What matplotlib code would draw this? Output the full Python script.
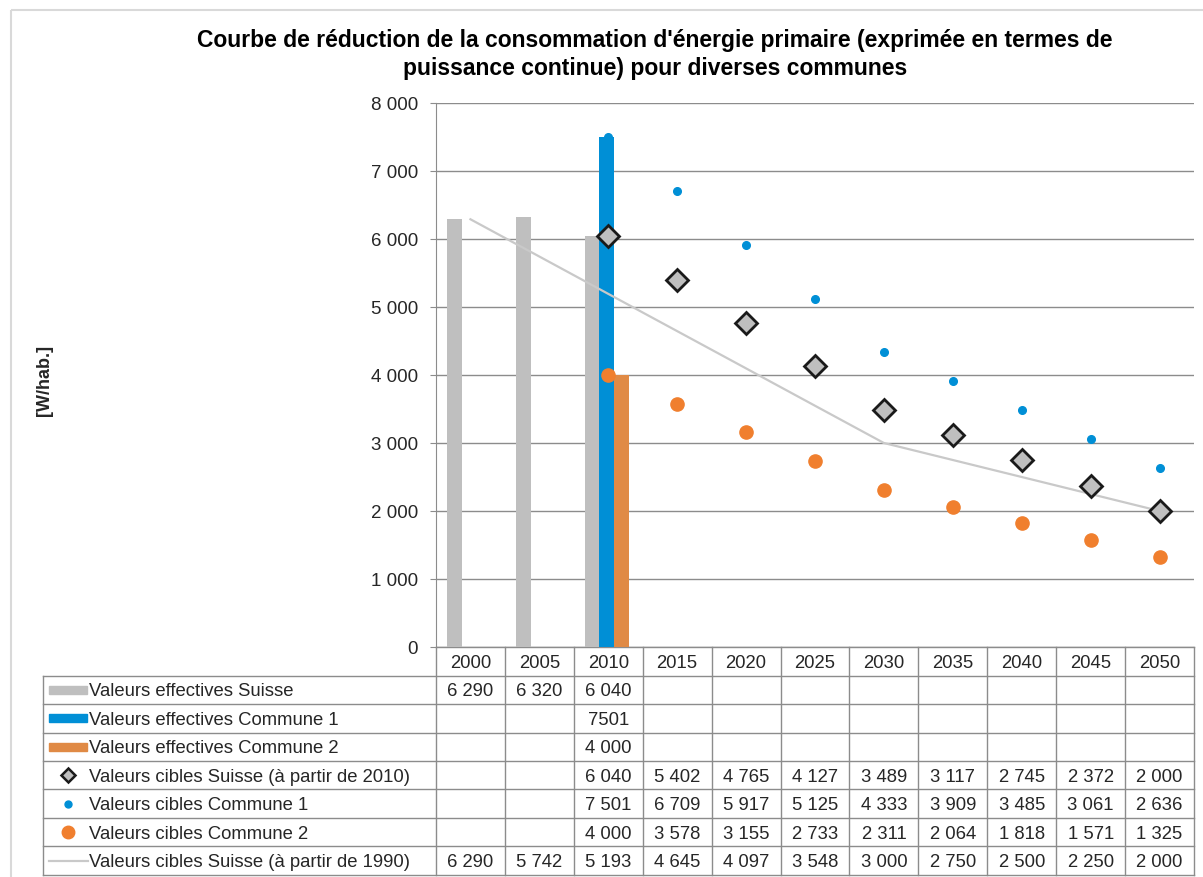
import matplotlib
matplotlib.use("Agg")
import matplotlib.pyplot as plt
from matplotlib.transforms import blended_transform_factory
from matplotlib.patches import Rectangle

plt.rcParams['font.family'] = ['Liberation Sans', 'DejaVu Sans']

# ---------------- data ----------------
years = [2000, 2005, 2010, 2015, 2020, 2025, 2030, 2035, 2040, 2045, 2050]
eff_suisse = [6290, 6320, 6040, None, None, None, None, None, None, None, None]
eff_c1 = [None, None, 7501, None, None, None, None, None, None, None, None]
eff_c2 = [None, None, 4000, None, None, None, None, None, None, None, None]
cible_suisse = [None, None, 6040, 5402, 4765, 4127, 3489, 3117, 2745, 2372, 2000]
cible_c1 = [None, None, 7501, 6709, 5917, 5125, 4333, 3909, 3485, 3061, 2636]
cible_c2 = [None, None, 4000, 3578, 3155, 2733, 2311, 2064, 1818, 1571, 1325]
cible_1990 = [6290, 5742, 5193, 4645, 4097, 3548, 3000, 2750, 2500, 2250, 2000]

series_labels = [
    "Valeurs effectives Suisse",
    "Valeurs effectives Commune 1",
    "Valeurs effectives Commune 2",
    "Valeurs cibles Suisse (à partir de 2010)",
    "Valeurs cibles Commune 1",
    "Valeurs cibles Commune 2",
    "Valeurs cibles Suisse (à partir de 1990)",
]
y_ticks = [0, 1000, 2000, 3000, 4000, 5000, 6000, 7000, 8000]
title = ("Courbe de réduction de la consommation d'énergie primaire (exprimée en termes de\n"
         "puissance continue) pour diverses communes")
ylabel = "[W/hab.]"

# ---------------- styles ----------------
C_GRAY = "#BFBFBF"
C_BLUE = "#008FD6"
C_ORANGE_BAR = "#E08A45"
C_ORANGE_DOT = "#F07F2E"
C_LINE = "#C9C9C9"
C_GRID = "#8C8C8C"
C_TXT = "#262626"
FS = 13.3

W, H = 1203, 878
fig = plt.figure(figsize=(W / 100, H / 100), dpi=100)

# overlay in pixel coords (y downward)
ov = fig.add_axes([0, 0, 1, 1])
ov.set_xlim(0, W)
ov.set_ylim(H, 0)
ov.axis("off")
ov.set_zorder(0)

# outer frame
ov.add_patch(Rectangle((11, 11), W + 20, H + 20, fill=False, ec="#D9D9D9", lw=1.5))

PL, PR, PT, PB = 436, 1194, 104, 648
ax = fig.add_axes([PL / W, 1 - PB / H, (PR - PL) / W, (PB - PT) / H])
ax.set_zorder(1)
ax.patch.set_alpha(0)
n = len(years)
xs = list(range(n))
ax.set_xlim(-0.5, n - 0.5)
ax.set_ylim(0, 8000)

# bars
bw = 0.215
def bar_series(vals, off, color):
    px = [x + off for x, v in zip(xs, vals) if v is not None]
    pv = [v for v in vals if v is not None]
    ax.bar(px, pv, width=bw, color=color, zorder=2)

bar_series(eff_suisse, -0.235, C_GRAY)
bar_series(eff_c1, -0.02, C_BLUE)
bar_series(eff_c2, 0.195, C_ORANGE_BAR)

# line
ax.plot(xs, cible_1990, color=C_LINE, lw=1.6, zorder=3)

def pts(vals):
    return ([x for x, v in zip(xs, vals) if v is not None], [v for v in vals if v is not None])

ax.plot(*pts(cible_suisse), ls="none", marker="D", ms=11, mfc="#BFBFBF", mec="#1a1a1a", mew=2, zorder=5)
ax.plot(*pts(cible_c1), ls="none", marker="o", ms=5.5, mfc=C_BLUE, mec=C_BLUE, zorder=5)
ax.plot(*pts(cible_c2), ls="none", marker="o", ms=9.5, mfc=C_ORANGE_DOT, mec=C_ORANGE_DOT, zorder=5)

ax.set_yticks(y_ticks)
ax.set_yticklabels([f"{t:,}".replace(",", " ") for t in y_ticks], fontsize=13.5, color=C_TXT)
ax.yaxis.grid(True, color=C_GRID, lw=1)
ax.set_axisbelow(True)
ax.set_xticks([])
for s in ["top", "right", "bottom"]:
    ax.spines[s].set_visible(False)
ax.spines["left"].set_color(C_GRID)
ax.tick_params(axis="y", length=4, color=C_GRID, pad=9)

fig.text(45 / W, 1 - 380 / H, ylabel, rotation=90, ha="center", va="center",
         fontsize=13, fontweight="bold", color=C_TXT)
fig.text(655 / W, 1 - 54.5 / H, title, ha="center", va="center", fontsize=16.5,
         fontweight="bold", color="black", linespacing=1.27)

# ---------------- data table ----------------
bt = blended_transform_factory(ax.transData, ov.transData)
row_h = 28.5
top = PB
TL = 43
edges = [i - 0.5 for i in range(n + 1)]
nrows = len(series_labels)
bottom = top + row_h * (nrows + 1)
lc = "#8C8C8C"
ov.plot([PL, PR], [top, top], color=lc, lw=1)
for r in range(1, nrows + 2):
    yy = top + r * row_h
    ov.plot([TL, PR], [yy, yy], color=lc, lw=1)
for e in edges:
    ov.plot([e, e], [top, bottom], color=lc, lw=1, transform=bt)
ov.plot([TL, TL], [top + row_h, bottom], color=lc, lw=1)

for x, yv in zip(xs, years):
    ov.text(x, top + row_h / 2 + 1, str(yv), transform=bt, ha="center", va="center",
            fontsize=FS, color=C_TXT)

rows = [eff_suisse, eff_c1, eff_c2, cible_suisse, cible_c1, cible_c2, cible_1990]
nospace = [False, True, False, False, False, False, False]

def yc(r):
    return top + (r + 1.5) * row_h

for r, (vals, ns) in enumerate(zip(rows, nospace)):
    for x, v in zip(xs, vals):
        if v is None:
            continue
        s = str(v) if ns else f"{v:,}".replace(",", " ")
        ov.text(x, yc(r) + 1, s, transform=bt, ha="center", va="center", fontsize=FS, color=C_TXT)
    ov.text(89, yc(r) + 1, series_labels[r], ha="left", va="center", fontsize=FS, color=C_TXT)

# legend keys
for r, c in zip(range(3), [C_GRAY, C_BLUE, C_ORANGE_BAR]):
    ov.add_patch(Rectangle((49, yc(r) - 4), 38, 8, color=c))
ov.plot([68], [yc(3)], marker="D", ms=7, mfc="#BFBFBF", mec="#1a1a1a", mew=1.8)
ov.plot([68], [yc(4)], marker="o", ms=5, mfc=C_BLUE, mec=C_BLUE)
ov.plot([68], [yc(5)], marker="o", ms=9, mfc=C_ORANGE_DOT, mec=C_ORANGE_DOT)
ov.plot([49, 88], [yc(6), yc(6)], color=C_LINE, lw=1.6)

fig.savefig("out.png", dpi=100)
